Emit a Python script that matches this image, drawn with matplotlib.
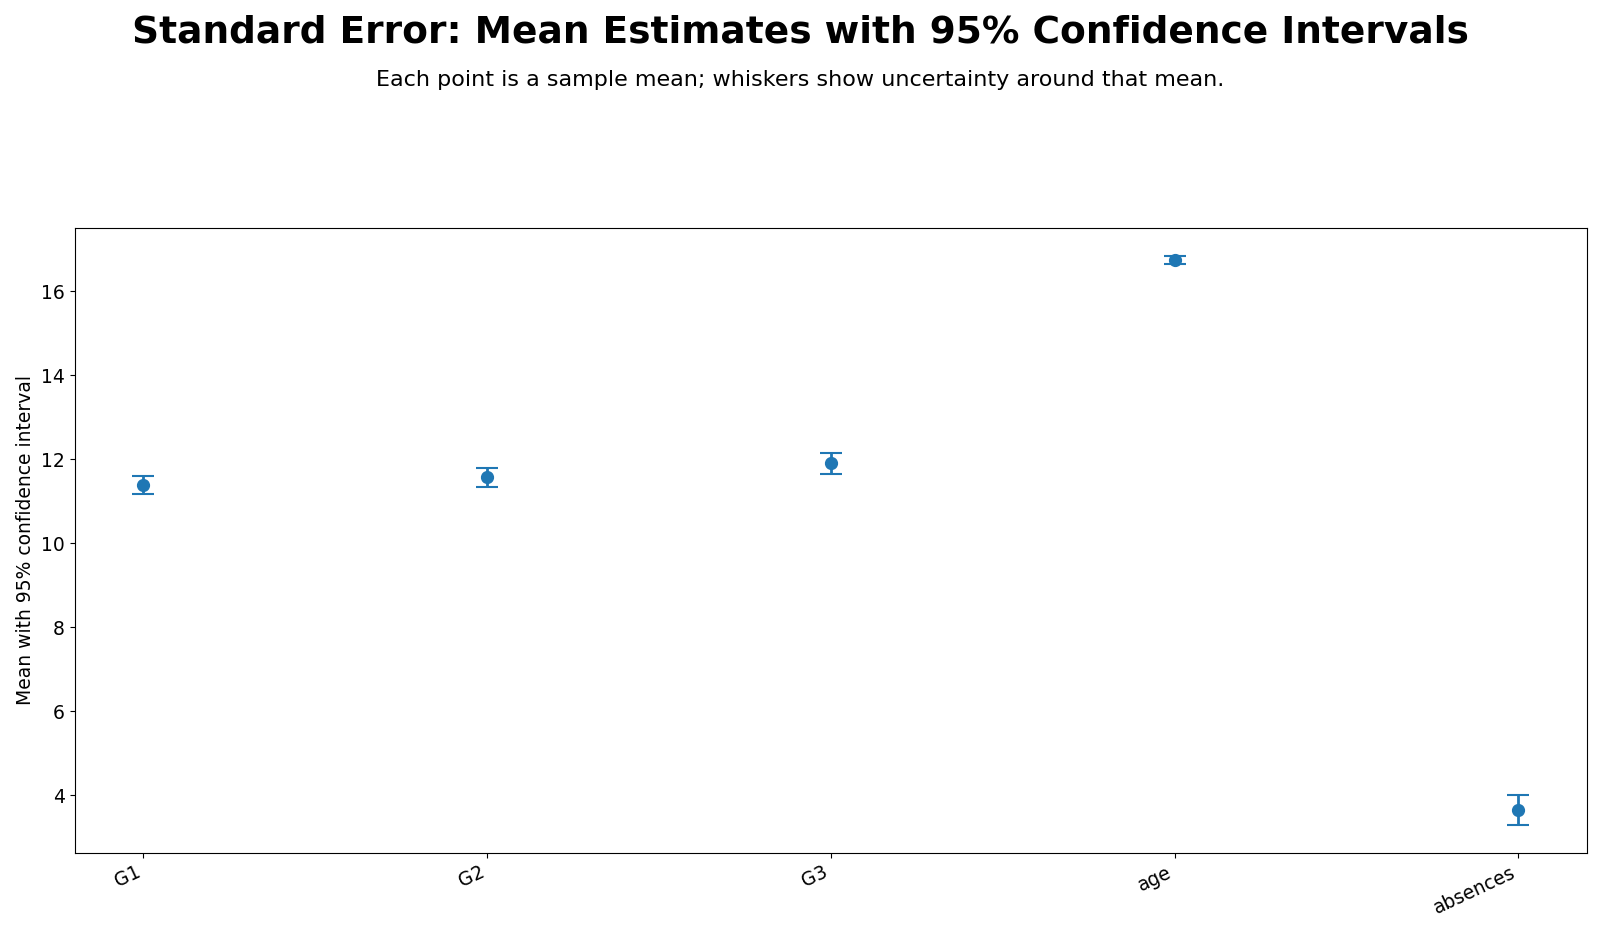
import numpy as np
import matplotlib
matplotlib.use("Agg")
import matplotlib.pyplot as plt

# Sample means and 95% CI half-widths (1.96 * SE)
variables = ["G1", "G2", "G3", "age", "absences"]
means = [11.399, 11.570, 11.906, 16.744, 3.659]
ci_half = [0.211, 0.224, 0.249, 0.094, 0.357]

fig, ax = plt.subplots(figsize=(16, 9.34), dpi=100)

x = np.arange(len(variables))
ax.errorbar(x, means, yerr=ci_half, fmt="o", color="#1f77b4",
            capsize=8, markersize=8.5, elinewidth=2, capthick=1.5)

ax.set_xticks(x)
ax.set_xticklabels(variables, rotation=25, ha="right")
ax.set_ylabel("Mean with 95% confidence interval", fontsize=13.5)
ax.tick_params(labelsize=13.5)

fig.suptitle("Standard Error: Mean Estimates with 95% Confidence Intervals",
             fontsize=27, fontweight="bold", y=0.985)
fig.text(0.5, 0.914, "Each point is a sample mean; whiskers show uncertainty around that mean.",
         ha="center", va="center", fontsize=16)

fig.subplots_adjust(left=0.0466, right=0.992, top=0.756, bottom=0.0867)
fig.savefig("out.png", dpi=100)
